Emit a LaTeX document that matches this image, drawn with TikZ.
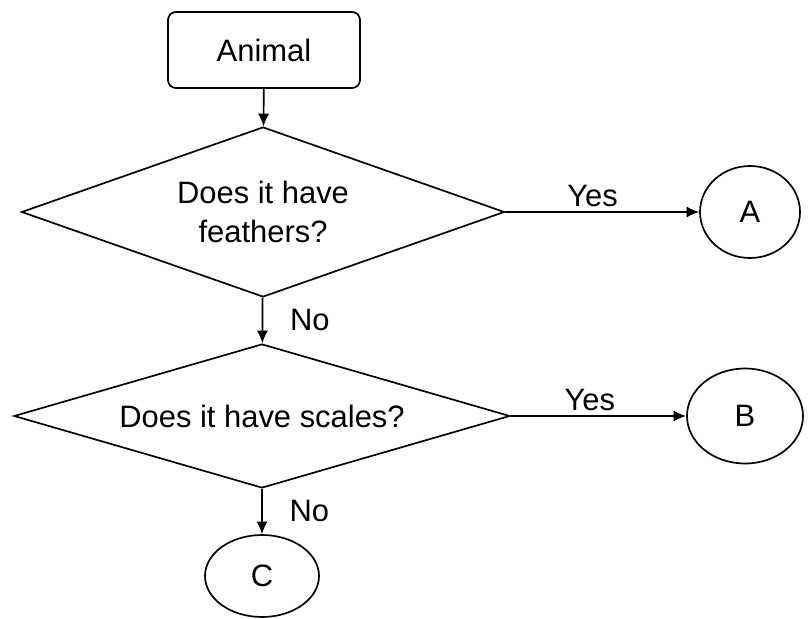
\documentclass[tikz,border=0pt]{standalone}
\usepackage{fontspec}
\setmainfont{Liberation Sans}
\usetikzlibrary{shapes.geometric,arrows.meta}

\begin{document}
\begin{tikzpicture}[>={Latex[length=9pt,width=8pt]},line width=1.2pt,
    every node/.style={font=\fontsize{22pt}{28pt}\selectfont},
    askbox/.style={diamond,draw,inner sep=0pt,align=center},
    endbox/.style={ellipse,draw,inner sep=0pt}]
    \useasboundingbox (0,0) rectangle (20.2,-15.475);
    \node[draw,rounded corners=0.2cm,minimum width=4.8cm,minimum height=1.9cm] (animal) at (6.6,-1.25) {Animal};
    \node[askbox,aspect=2.84,minimum width=12.075cm,minimum height=4.25cm] (feathers) at (6.575,-5.3) {Does it have\\feathers?};
    \node[askbox,aspect=3.44,minimum width=12.4cm,minimum height=3.6cm] (scales) at (6.55,-10.4) {Does it have scales?};
    \node[endbox,minimum width=2.5cm,minimum height=2.3cm] (a) at (18.75,-5.3) {A};
    \node[endbox,minimum width=2.9cm,minimum height=2.375cm] (b) at (18.625,-10.4) {B};
    \node[endbox,minimum width=2.85cm,minimum height=2.05cm] (c) at (6.55,-14.4) {C};
    \draw[->] (animal)--(feathers);
    \draw[->] (feathers)--node[above,pos=0.45] {Yes} (a);
    \draw[->] (feathers)--node[right=0.55cm] {No} (scales);
    \draw[->] (scales)--node[above,pos=0.45] {Yes} (b);
    \draw[->] (scales)--node[right=0.55cm] {No} (c);
\end{tikzpicture}
\end{document}
